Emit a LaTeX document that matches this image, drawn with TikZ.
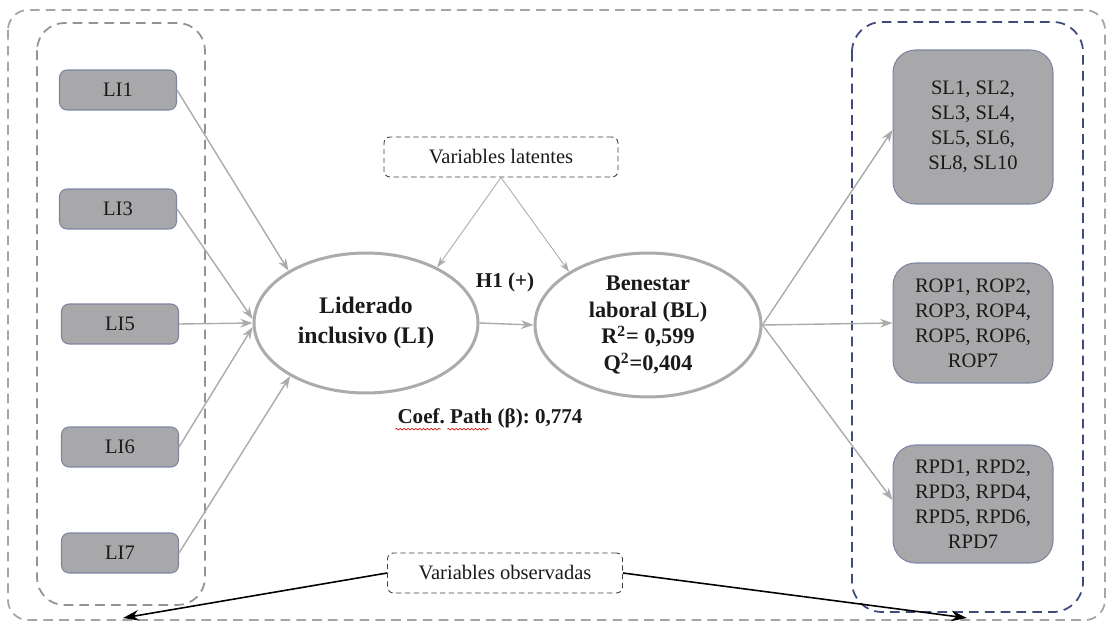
\documentclass[tikz,border=0pt]{standalone}
\usepackage{fontspec}
\setmainfont{Liberation Serif}
\frenchspacing
\usetikzlibrary{arrows.meta,shapes.geometric,decorations.pathmorphing,calc}
\definecolor{boxfill}{HTML}{A8A7A9}
\definecolor{boxedge}{HTML}{7E85A3}
\definecolor{linegray}{HTML}{ABABAB}
\definecolor{dashgray}{HTML}{A5A5A5}
\definecolor{navydash}{HTML}{3E4B7C}
\definecolor{txt}{HTML}{1A1A1A}
\tikzset{
  libox/.style={rectangle, rounded corners=0.15cm, fill=boxfill, draw=boxedge, line width=0.6pt,
    minimum width=2.34cm, minimum height=0.8cm, inner sep=0pt, text=txt,
    font=\fontsize{11.7}{14}\selectfont},
  rbox/.style={rectangle, rounded corners=0.45cm, fill=boxfill, draw=boxedge, line width=0.6pt,
    minimum width=3.2cm, inner sep=0pt, align=center, text=txt,
    font=\fontsize{11.7}{14.2}\selectfont},
  latent/.style={ellipse, draw=linegray, line width=1.7pt, inner sep=0pt, align=center, text=txt},
  tagbox/.style={rectangle, rounded corners=0.12cm, draw=black!75, densely dashed, line width=0.5pt,
    minimum width=4.68cm, minimum height=0.8cm, inner sep=0pt, text=txt,
    font=\fontsize{11.7}{14}\selectfont},
  garrow/.style={draw=linegray, line width=0.8pt, -{Stealth[length=7pt,width=5pt]}},
  thinarrow/.style={draw=linegray, line width=0.5pt, -{Stealth[length=6pt,width=4pt]}},
  blackarrow/.style={draw=black, line width=0.9pt, -{Stealth[length=9pt,width=6pt]}},
  group/.style={dash pattern=on 5.5pt off 3.5pt, line width=1pt},
  squiggle/.style={draw=red!85!black, line width=0.35pt, decorate,
    decoration={snake, amplitude=0.45pt, segment length=2.2pt}}
}
\begin{document}
\begin{tikzpicture}[x=0.02cm, y=-0.02cm]
\useasboundingbox (0,0) rectangle (1112,628);
% group frames
\draw[group, draw=dashgray, rounded corners=0.4cm] (8,10) rectangle (1105,620);
\draw[group, draw=gray!85, rounded corners=0.55cm] (37,23) rectangle (205,605);
\draw[group, draw=navydash, rounded corners=0.6cm] (852,22) rectangle (1083,612);

% indicator boxes left
\node[libox] (li1) at (118,90) {LI1};
\node[libox] (li3) at (118,209) {LI3};
\node[libox] (li5) at (120,324) {LI5};
\node[libox] (li6) at (120,447) {LI6};
\node[libox] (li7) at (120,553) {LI7};

% latent variables
\node[latent, minimum width=4.48cm, minimum height=2.8cm,
  font=\bfseries\fontsize{13.5}{17}\selectfont] (LI) at (366,323) {Liderado\\inclusivo (LI)};
\node[latent, minimum width=4.52cm, minimum height=2.88cm,
  font=\bfseries\fontsize{12.7}{15.3}\selectfont] (BL) at (648,325)
  {Benestar\\laboral (BL)\\R\textsuperscript{2}= 0,599\\Q\textsuperscript{2}=0,404};

% indicator boxes right
\node[rbox, minimum height=3.08cm] (sl) at (973,127) {SL1, SL2,\\SL3, SL4,\\SL5, SL6,\\SL8, SL10};
\node[rbox, minimum height=2.4cm] (rop) at (973,323) {ROP1, ROP2,\\ROP3, ROP4,\\ROP5, ROP6,\\ROP7};
\node[rbox, minimum height=2.36cm] (rpd) at (973,504) {RPD1, RPD2,\\RPD3, RPD4,\\RPD5, RPD6,\\RPD7};

% tag boxes
\node[tagbox] (lat) at (501,157) {Variables latentes};
\node[tagbox, minimum width=4.7cm] (obs) at (505,573) {Variables observadas};

% labels
\node[font=\bfseries\fontsize{12}{14}\selectfont, text=txt] (h1) at (505,282) {H1 (+)};
\node[font=\bfseries\fontsize{12}{14}\selectfont, text=txt] (coef) at (490,418) {Coef. Path (β): 0,774};
\draw[squiggle] ($(coef.base west)+(4,6)$) -- ++(46,0);
\draw[squiggle] ($(coef.base west)+(56,6)$) -- ++(42,0);

% connectors left
\draw[garrow] (li1.east) -- (LI.146.8);
\draw[garrow] (li3.east) -- (LI.178);
\draw[garrow] (li5.east) -- (LI.west);
\draw[garrow] (li6.east) -- (LI.182);
\draw[garrow] (li7.east) -- (LI.215.4);

% structural path
\draw[garrow] (LI.east) -- (BL.west);

% connectors right
\draw[garrow] (BL.east) -- ($(sl.west)+(0,3)$);
\draw[garrow] (BL.east) -- (rop.west);
\draw[garrow] (BL.east) -- ($(rpd.west)+(0,-4)$);

% tag connectors
\draw[thinarrow] (lat.south) -- (LI.38.9);
\draw[thinarrow] (lat.south) -- (BL.146.8);
\coordinate (obsL) at (123,618);
\coordinate (obsR) at (967,618);
\draw[blackarrow] (obs.west) -- (obsL);
\draw[blackarrow] (obs.east) -- (obsR);
\end{tikzpicture}
\end{document}
